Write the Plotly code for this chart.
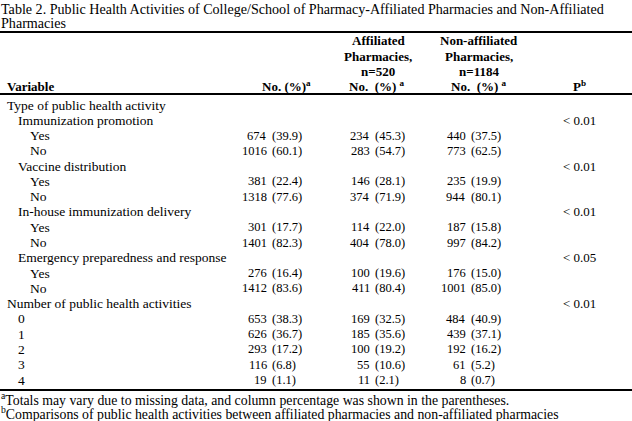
import plotly.graph_objects as go

# ---------------- data ----------------
title_lines = [
    "Table 2. Public Health Activities of College/School of Pharmacy-Affiliated Pharmacies and Non-Affiliated",
    "Pharmacies",
]
variables = ["Type of public health activity", "Immunization promotion", "Yes", "No",
             "Vaccine distribution", "Yes", "No", "In-house immunization delivery", "Yes", "No",
             "Emergency preparedness and response", "Yes", "No",
             "Number of public health activities", "0", "1", "2", "3", "4"]
indent = [0, 1, 2, 2, 1, 2, 2, 1, 2, 2, 1, 2, 2, 0, 1, 1, 1, 1, 1]
total_n = [None, None, 674, 1016, None, 381, 1318, None, 301, 1401, None, 276, 1412,
           None, 653, 626, 293, 116, 19]
total_pct = [None, None, 39.9, 60.1, None, 22.4, 77.6, None, 17.7, 82.3, None, 16.4, 83.6,
             None, 38.3, 36.7, 17.2, 6.8, 1.1]
aff_n = [None, None, 234, 283, None, 146, 374, None, 114, 404, None, 100, 411,
         None, 169, 185, 100, 55, 11]
aff_pct = [None, None, 45.3, 54.7, None, 28.1, 71.9, None, 22.0, 78.0, None, 19.6, 80.4,
           None, 32.5, 35.6, 19.2, 10.6, 2.1]
non_n = [None, None, 440, 773, None, 235, 944, None, 187, 997, None, 176, 1001,
         None, 484, 439, 192, 61, 8]
non_pct = [None, None, 37.5, 62.5, None, 19.9, 80.1, None, 15.8, 84.2, None, 15.0, 85.0,
           None, 40.9, 37.1, 16.2, 5.2, 0.7]
p_values = [None, "< 0.01", None, None, "< 0.01", None, None, "< 0.01", None, None,
            "< 0.05", None, None, "< 0.01", None, None, None, None, None]
header_aff = ["Affiliated", "Pharmacies,", "n=520"]
header_non = ["Non-affiliated", "Pharmacies,", "n=1184"]
footnotes = [
    "<sup>a</sup>Totals may vary due to missing data, and column percentage was shown in the parentheses.",
    "<sup>b</sup>Comparisons of public health activities between affiliated pharmacies and non-affiliated pharmacies",
]

# ---------------- layout constants ----------------
W, H = 632, 421
FONT = "Liberation Serif, Times New Roman, serif"
ROW0_PX, ROW_STEP = 105.0, 15.28
INDENT_X = [6, 17, 29]
COLS = [  # (number right edge, paren left edge)
    (268, 271, total_n, total_pct),
    (371, 374, aff_n, aff_pct),
    (467, 470, non_n, non_pct),
]
P_X = 579


def py(px):
    return 1 - px / H


fig = go.Figure()
ann = []
label_font = dict(family=FONT, size=13.5, color="black")
num_font = dict(family=FONT, size=12.5, color="black")
p_font = dict(family=FONT, size=13, color="black")
title_font = dict(family=FONT, size=14.1, color="black")
bold = dict(family=FONT, size=13, color="black", weight="bold")

for r, (lab, ind) in enumerate(zip(variables, indent)):
    ann.append(dict(x=INDENT_X[ind], y=r, xref="x", yref="y", text=lab, xanchor="left",
                    yanchor="middle", showarrow=False, font=label_font, borderpad=0))
    for xn, xp, ns, ps in COLS:
        if ns[r] is not None:
            ann.append(dict(x=xn, y=r, xref="x", yref="y", text=str(ns[r]), xanchor="right",
                            yanchor="middle", showarrow=False, font=num_font, borderpad=0))
            ann.append(dict(x=xp, y=r, xref="x", yref="y", text=f"({ps[r]:.1f})", xanchor="left",
                            yanchor="middle", showarrow=False, font=num_font, borderpad=0))
    if p_values[r]:
        ann.append(dict(x=P_X, y=r, xref="x", yref="y", text=p_values[r], xanchor="center",
                        yanchor="middle", showarrow=False, font=p_font, borderpad=0))

# title
for i, t in enumerate(title_lines):
    ann.append(dict(x=0, y=py(9 + 14 * i), xref="paper", yref="paper", text=t,
                    xanchor="left", yanchor="middle", showarrow=False, font=title_font,
                    borderpad=0))

# headers
hdr_y = [41, 56, 71]
for i in range(3):
    ann.append(dict(x=378 / W, y=py(hdr_y[i]), xref="paper", yref="paper", text=header_aff[i],
                    xanchor="center", yanchor="middle", showarrow=False, font=bold, borderpad=0))
    ann.append(dict(x=479 / W, y=py(hdr_y[i]), xref="paper", yref="paper", text=header_non[i],
                    xanchor="center", yanchor="middle", showarrow=False, font=bold, borderpad=0))
last_hdr = 86
ann.append(dict(x=6 / W, y=py(last_hdr), xref="paper", yref="paper", text="Variable",
                xanchor="left", yanchor="middle", showarrow=False, font=bold, borderpad=0))
ann.append(dict(x=312 / W, y=py(last_hdr), xref="paper", yref="paper", text="No. (%)<sup>a</sup>",
                xanchor="right", yanchor="middle", showarrow=False, font=bold, borderpad=0))
ann.append(dict(x=377 / W, y=py(last_hdr), xref="paper", yref="paper",
                text="No.\u00a0 (%)\u00a0<sup>a</sup>",
                xanchor="center", yanchor="middle", showarrow=False, font=bold, borderpad=0))
ann.append(dict(x=479 / W, y=py(last_hdr), xref="paper", yref="paper",
                text="No.\u00a0 (%)\u00a0<sup>a</sup>",
                xanchor="center", yanchor="middle", showarrow=False, font=bold, borderpad=0))
ann.append(dict(x=P_X / W, y=py(last_hdr), xref="paper", yref="paper", text="P<sup>b</sup>",
                xanchor="center", yanchor="middle", showarrow=False, font=bold, borderpad=0))

# footnotes
foot = dict(family=FONT, size=13.8, color="black")
for i, t in enumerate(footnotes):
    ann.append(dict(x=0, y=py(399 + 13.5 * i), xref="paper", yref="paper", text=t,
                    xanchor="left", yanchor="middle", showarrow=False, font=foot, borderpad=0))

# rules
shapes = []
for ypx in (32, 94, 390):
    shapes.append(dict(type="line", xref="paper", yref="paper", x0=0, x1=1,
                       y0=py(ypx), y1=py(ypx), line=dict(color="black", width=2)))

top_row = -ROW0_PX / ROW_STEP
bot_row = (H - ROW0_PX) / ROW_STEP
fig.update_layout(
    width=W, height=H, margin=dict(l=0, r=0, t=0, b=0),
    paper_bgcolor="white", plot_bgcolor="white",
    xaxis=dict(range=[0, W], visible=False, fixedrange=True),
    yaxis=dict(range=[bot_row, top_row], visible=False, fixedrange=True),
    annotations=ann, shapes=shapes, showlegend=False,
)
fig.write_html(
    "out.html",
    config={"displayModeBar": False, "responsive": False},
    post_script="document.body.style.margin='0';document.body.style.overflow='hidden';",
)
